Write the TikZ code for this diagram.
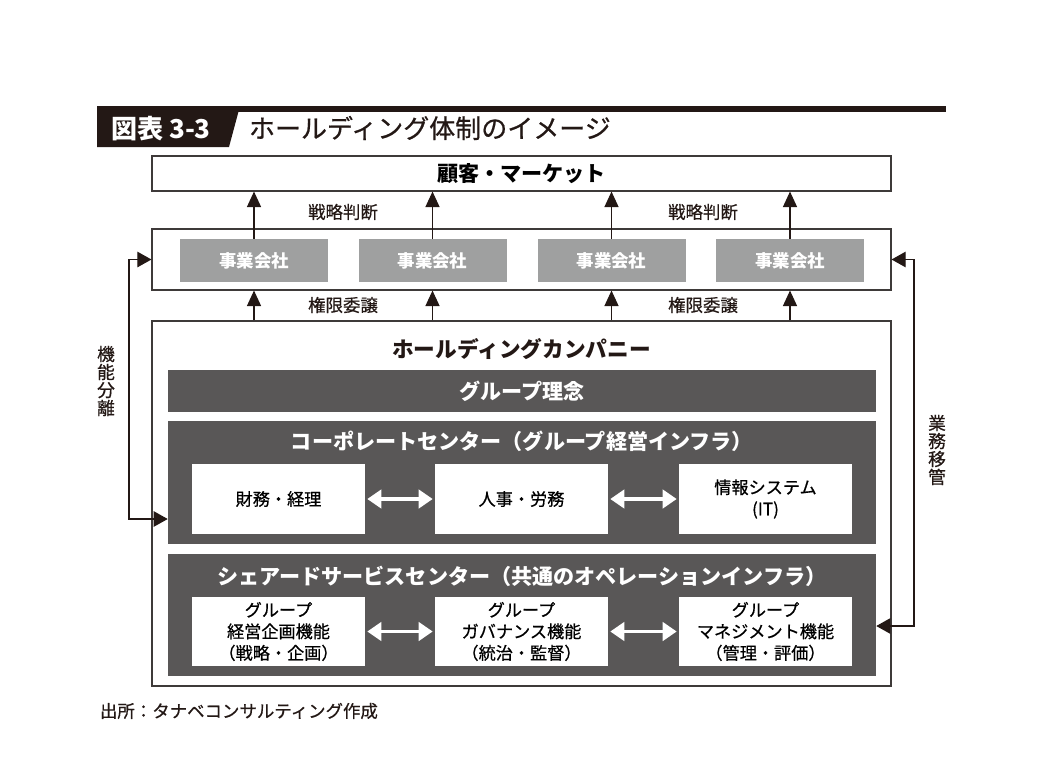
\documentclass[tikz,border=0pt]{standalone}
\usepackage{fontspec}
\setmainfont{Noto Sans CJK JP}
\newfontfamily\jpmed{Noto Sans CJK JP}[FakeBold=0.6]
\usepackage{xcolor}
\usepackage{tikz}
\usetikzlibrary{arrows.meta, positioning}

\definecolor{inkblack}{RGB}{35,24,21}
\definecolor{framegray}{RGB}{62,58,57}
\definecolor{bargray}{RGB}{89,87,87}
\definecolor{firmgray}{RGB}{159,160,160}
\newdimen\pxu \pxu=0.025cm
\newcommand{\fsz}[2]{\fontsize{#1}{#2}\selectfont}

\begin{document}
\begin{tikzpicture}[
    x=\pxu, y=-\pxu,
    frame/.style={rectangle, draw=framegray, line width=0.8pt, fill=white, minimum width=739\pxu, inner sep=0pt},
    firm/.style={rectangle, fill=firmgray, text=white, minimum width=148\pxu, minimum height=43\pxu, font=\fsz{12.4}{14}\bfseries},
    darkbar/.style={rectangle, fill=bargray, minimum width=708\pxu, inner sep=0pt},
    bartitle/.style={text=white, font=\fsz{15}{17}\bfseries},
    unit/.style={rectangle, fill=white, minimum width=173\pxu, minimum height=70\pxu, align=center, font=\jpmed\fsz{12.2}{15.3}},
    note/.style={font=\jpmed\fsz{12.4}{14}, text=inkblack},
    vnote/.style={align=center, font=\jpmed\fsz{12.6}{12.8}, text=inkblack},
    uparrow/.style={draw=inkblack, line width=0.8pt, -{Triangle[width=10pt, length=11pt]}},
    sidearrow/.style={draw=inkblack, line width=0.8pt, {Triangle[width=11pt, length=10pt]}-{Triangle[width=11pt, length=10pt]}},
    swap/.style={draw=white, line width=2.8pt, {Triangle[width=13pt, length=10pt]}-{Triangle[width=13pt, length=10pt]}, shorten <=2\pxu, shorten >=2\pxu}
]
    \useasboundingbox (0,0) rectangle (1046,758);

    % heading
    \fill[inkblack] (97,106) rectangle (946,112);
    \fill[inkblack] (97,106) -- (240,106) -- (229,147) -- (97,147) -- cycle;
    \node (fignum) [text=white, font=\fsz{18.5}{20}\bfseries] at (161,129) {図表 3-3};
    \node (figtitle) [anchor=west, text=inkblack, font=\jpmed\fsz{18.5}{20}] at (244,128) {ホールディング体制のイメージ};

    % customer and operating companies
    \node (cust) [frame, minimum height=35\pxu, font=\fsz{15}{17}\bfseries] at (521.5,173.5) {顧客・マーケット};
    \node (biz) [frame, minimum height=61\pxu] at (521.5,259.5) {};
    \node (firm1) [firm] at (254,260.5) {事業会社};
    \node (firm2) [firm] at (432.5,260.5) {事業会社};
    \node (firm3) [firm] at (611.5,260.5) {事業会社};
    \node (firm4) [firm] at (790,260.5) {事業会社};

    % holding company
    \node (hold) [frame, minimum height=365\pxu] at (521.5,503.5) {};
    \node (holdtitle) [font=\fsz{15.4}{17}\bfseries, text=inkblack] at (521.5,349) {ホールディングカンパニー};
    \node (idea) [darkbar, minimum height=42\pxu, text=white, font=\fsz{15}{17}\bfseries] at (522,391) {グループ理念};
    \node (corp) [darkbar, minimum height=123\pxu] at (522,482.5) {};
    \node (corptitle) [bartitle] at (522,441) {コーポレートセンター（グループ経営インフラ）};
    \node (shared) [darkbar, minimum height=122\pxu] at (522,615) {};
    \node (sharedtitle) [bartitle] at (522,576) {シェアードサービスセンター（共通のオペレーションインフラ）};

    \node (fin) [unit] at (278.5,499) {財務・経理};
    \node (hr) [unit] at (521.5,499) {人事・労務};
    \node (it) [unit] at (765.5,499) {情報システム\\(IT)};
    \node (plan) [unit, minimum height=69\pxu] at (278.5,631.5) {グループ\\経営企画機能\\（戦略・企画）};
    \node (gov) [unit, minimum height=69\pxu] at (521.5,631.5) {グループ\\ガバナンス機能\\（統治・監督）};
    \node (mgmt) [unit, minimum height=69\pxu] at (765.5,631.5) {グループ\\マネジメント機能\\（管理・評価）};

    \draw [swap] (fin) -- (hr);
    \draw [swap] (hr) -- (it);
    \draw [swap] (plan) -- (gov);
    \draw [swap] (gov) -- (mgmt);

    % vertical links
    \foreach \f in {firm1, firm2, firm3, firm4} {
        \draw [uparrow] (\f.north) -- (\f.north |- cust.south);
        \draw [uparrow] (\f |- hold.north) -- (\f |- biz.south);
    }
    \node (judge1) [note] at (343,212) {戦略判断};
    \node (judge2) [note] at (703,212) {戦略判断};
    \node (deleg1) [note] at (343,305) {権限委譲};
    \node (deleg2) [note] at (703,305) {権限委譲};

    % side links
    \coordinate (splitbend) at (129,519);
    \coordinate (movebend) at (914,626);
    \draw [sidearrow] (corp.west |- splitbend) -- (splitbend) |- (biz.west);
    \draw [sidearrow] (shared.east |- movebend) -- (movebend) |- (biz.east);
    \node (split) [vnote] at (106,381) {機\\能\\分\\離};
    \node (move) [vnote] at (937,450) {業\\務\\移\\管};

    \node (source) [anchor=west, note] at (95,711) {出所：タナベコンサルティング作成};
\end{tikzpicture}
\end{document}
